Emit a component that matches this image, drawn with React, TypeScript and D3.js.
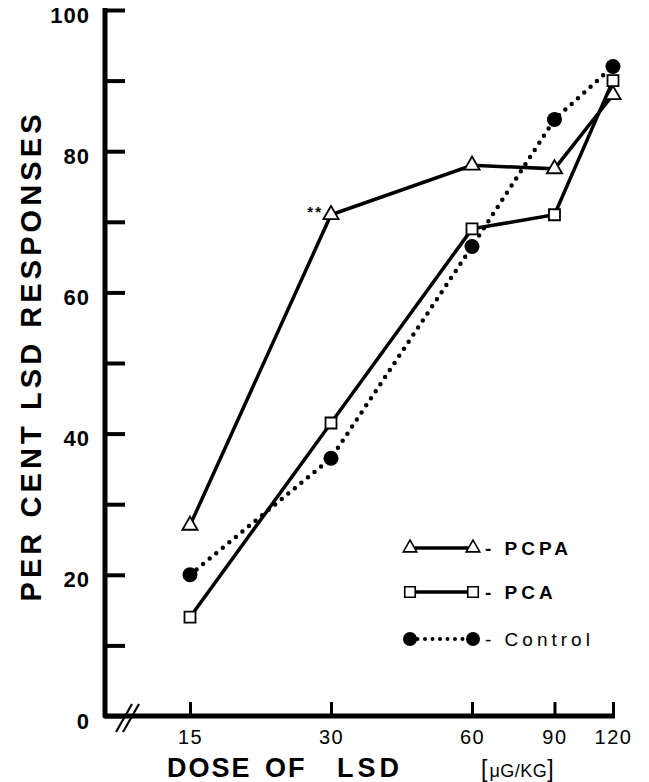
import React, { useRef, useEffect } from 'react';
import * as d3 from 'd3';

// dose of LSD (ug/kg), x axis is logarithmic in the original
const doses = [15, 30, 60, 90, 120];
const xTickLabels = ['15', '30', '60', '90', '120'];

// per cent LSD responses
const pcpa = [27, 71, 78, 77.5, 88];
const pca = [14, 41.5, 69, 71, 90];
const control = [20, 36.5, 66.5, 84.5, 92];

const yTicks = [0, 10, 20, 30, 40, 50, 60, 70, 80, 90, 100];
const yTickLabels = [0, 20, 40, 60, 80, 100];

const FONT = '"Liberation Sans", Arial, Helvetica, sans-serif';

const DoseChart = () => {
  const chartRef = useRef<SVGSVGElement>(null);

  useEffect(() => {
    const width = 649;
    const height = 782;

    const svg = d3.select(chartRef.current);
    svg.selectAll('*').remove();
    svg.attr('width', width).attr('height', height);

    const x = d3.scaleLog().domain([15, 120]).range([190, 613]);
    const y = d3.scaleLinear().domain([0, 100]).range([716, 10]);
    const axisX = 105;

    //y axis: ticks pointing into the plot
    const yAxis = svg.append('g')
      .attr('transform', `translate(${axisX},0)`)
      .call(
        d3.axisLeft(y)
          .tickValues(yTicks)
          .tickSizeInner(-20)
          .tickSizeOuter(0)
          .tickPadding(15)
          .tickFormat(d => (yTickLabels.includes(+d) ? String(d) : ''))
      );
    yAxis.select('.domain').remove();
    yAxis.selectAll('line').attr('stroke', '#000').attr('stroke-width', 4);
    yAxis.selectAll('text')
      .attr('dy', '0.55em')
      .style('font-family', FONT)
      .style('font-size', '22px')
      .style('font-weight', 'bold')
      .style('letter-spacing', '1px')
      .style('fill', '#000');

    //x axis
    const xAxis = svg.append('g')
      .attr('transform', `translate(0,${y(0)})`)
      .call(
        d3.axisBottom(x)
          .tickValues(doses)
          .tickSizeInner(-14)
          .tickSizeOuter(0)
          .tickPadding(14)
          .tickFormat((d, i) => xTickLabels[i])
      );
    xAxis.select('.domain').remove();
    xAxis.selectAll('line').attr('stroke', '#000').attr('stroke-width', 3);
    xAxis.selectAll('text')
      .style('font-family', FONT)
      .style('font-size', '20px')
      .style('letter-spacing', '1.5px')
      .style('fill', '#000');

    //thick axis lines
    svg.append('path')
      .attr('d', `M${axisX},${y(100) - 2}V${y(0)}H${x(120) + 2}`)
      .attr('fill', 'none')
      .attr('stroke', '#000')
      .attr('stroke-width', 5)
      .attr('stroke-linejoin', 'round');

    //axis break marks
    [0, 7].forEach(off => {
      svg.append('line')
        .attr('x1', 116 + off).attr('y1', 732)
        .attr('x2', 132 + off).attr('y2', 704)
        .attr('stroke', '#000')
        .attr('stroke-width', 2.2);
    });

    const line = d3.line<number>()
      .x((d, i) => x(doses[i]))
      .y(d => y(d));

    //series lines
    svg.append('path')
      .attr('d', line(pcpa))
      .attr('fill', 'none')
      .attr('stroke', '#000')
      .attr('stroke-width', 3.5);

    svg.append('path')
      .attr('d', line(pca))
      .attr('fill', 'none')
      .attr('stroke', '#000')
      .attr('stroke-width', 3.5);

    svg.append('path')
      .attr('d', line(control))
      .attr('fill', 'none')
      .attr('stroke', '#000')
      .attr('stroke-width', 4.5)
      .attr('stroke-linecap', 'round')
      .attr('stroke-dasharray', '0 8.5');

    const tri = d3.symbol(d3.symbolTriangle, 100);
    const sq = d3.symbol(d3.symbolSquare, 121);

    //markers
    svg.append('g').selectAll('path')
      .data(pcpa)
      .join('path')
      .attr('d', tri)
      .attr('transform', (d, i) => `translate(${x(doses[i])},${y(d)})`)
      .attr('fill', '#fff')
      .attr('stroke', '#000')
      .attr('stroke-width', 1.8);

    svg.append('g').selectAll('path')
      .data(pca)
      .join('path')
      .attr('d', sq)
      .attr('transform', (d, i) => `translate(${x(doses[i])},${y(d)})`)
      .attr('fill', '#fff')
      .attr('stroke', '#000')
      .attr('stroke-width', 1.8);

    svg.append('g').selectAll('circle')
      .data(control)
      .join('circle')
      .attr('cx', (d, i) => x(doses[i]))
      .attr('cy', d => y(d))
      .attr('r', 7.5)
      .attr('fill', '#000');

    //significance mark
    svg.append('text')
      .attr('x', x(30) - 8)
      .attr('y', y(pcpa[1]) + 2)
      .attr('text-anchor', 'end')
      .style('font-family', FONT)
      .style('font-size', '15px')
      .style('font-weight', 'bold')
      .style('letter-spacing', '2px')
      .text('**');

    //legend
    const legend = svg.append('g');
    const rows = [
      { y: 548, kind: 'tri', label: '- PCPA', bold: true },
      { y: 592, kind: 'sq', label: '- PCA', bold: true },
      { y: 639, kind: 'dot', label: '- Control', bold: false },
    ];
    rows.forEach(r => {
      const x1 = 410;
      const x2 = 473;
      const l = legend.append('line')
        .attr('x1', x1).attr('y1', r.y)
        .attr('x2', x2).attr('y2', r.y)
        .attr('stroke', '#000');
      if (r.kind === 'dot') {
        l.attr('stroke-width', 4)
          .attr('stroke-linecap', 'round')
          .attr('stroke-dasharray', '0 7.5');
        [x1, x2].forEach(cx => {
          legend.append('circle').attr('cx', cx).attr('cy', r.y).attr('r', 7).attr('fill', '#000');
        });
      } else {
        l.attr('stroke-width', 3.5);
        [x1, x2].forEach(cx => {
          legend.append('path')
            .attr('d', r.kind === 'tri' ? d3.symbol(d3.symbolTriangle, 80)() : d3.symbol(d3.symbolSquare, 110)())
            .attr('transform', `translate(${cx},${r.y})`)
            .attr('fill', '#fff')
            .attr('stroke', '#000')
            .attr('stroke-width', 1.6);
        });
      }
      legend.append('text')
        .attr('x', 485)
        .attr('y', r.y + 7)
        .style('font-family', FONT)
        .style('font-size', '19px')
        .style('font-weight', r.bold ? 'bold' : 'normal')
        .style('letter-spacing', '4px')
        .text(r.label);
    });

    //x axis title
    const xt = svg.append('text')
      .attr('y', 777)
      .style('font-family', FONT)
      .style('font-weight', 'bold')
      .style('font-size', '27px')
      .style('letter-spacing', '2px');
    xt.append('tspan').attr('x', 167).text('DOSE');
    xt.append('tspan').attr('x', 265).text('OF');
    xt.append('tspan').attr('x', 337).style('letter-spacing', '4px').text('LSD');
    xt.append('tspan').attr('x', 481)
      .style('font-weight', 'normal').style('font-size', '23px').style('letter-spacing', '0px').text('[');
    xt.append('tspan').attr('dx', 2)
      .style('font-weight', 'normal').style('font-size', '18px').style('letter-spacing', '0.5px').text('μG/KG');
    xt.append('tspan')
      .style('font-weight', 'normal').style('font-size', '23px').style('letter-spacing', '0px').text(']');

    //y axis title
    svg.append('text')
      .attr('transform', 'translate(41,358) rotate(-90)')
      .attr('text-anchor', 'middle')
      .attr('textLength', 487)
      .attr('lengthAdjust', 'spacing')
      .style('font-family', FONT)
      .style('font-weight', 'bold')
      .style('font-size', '29px')
      .text('PER CENT LSD RESPONSES');
  }, []);

  return (
    <svg
      ref={chartRef}
      style={{ position: 'absolute', left: 0, top: 0, background: '#fff' }}
    ></svg>
  );
};

export default function App() {
  return <DoseChart />;
}
